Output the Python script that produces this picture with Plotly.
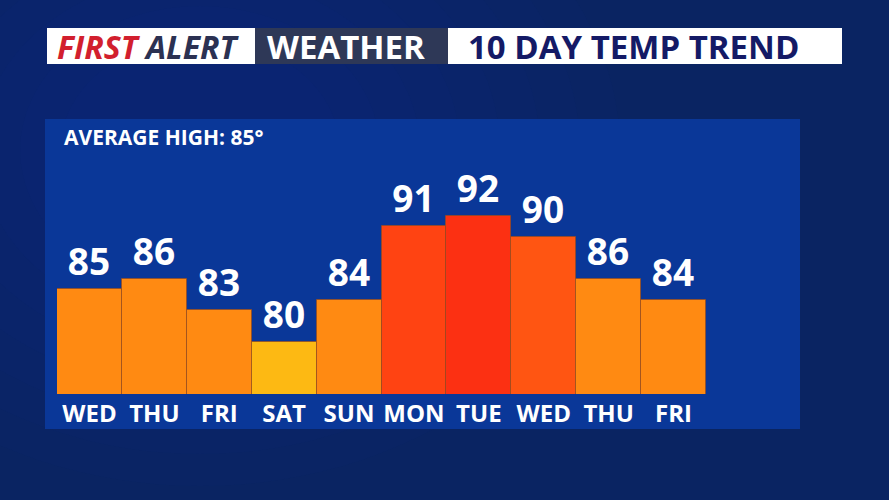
import plotly.graph_objects as go

days = ["WED", "THU", "FRI", "SAT", "SUN", "MON", "TUE", "WED ", "THU ", "FRI "]
day_labels = ["WED", "THU", "FRI", "SAT", "SUN", "MON", "TUE", "WED", "THU", "FRI"]
highs = [85, 86, 83, 80, 84, 91, 92, 90, 86, 84]
bar_colors = ["#FF8A12", "#FF8A12", "#FF8A12", "#FDB913", "#FF8A12",
              "#FF4312", "#FC3012", "#FF5512", "#FF8A12", "#FF8A12"]
title_left = ["FIRST", "ALERT"]
title_mid = "WEATHER"
title_right = "10 DAY TEMP TREND"
average_text = "AVERAGE HIGH: 85°"

W, H = 889, 500
ML, MR, MT, MB = 57, 183, 119, 106
PW = W - ML - MR
PH = H - MT - MB

def px(x):
    return (x - ML) / PW

def py(y):
    return (H - MB - y) / PH

FONT = "Open Sans"

fig = go.Figure()
fig.add_trace(go.Bar(
    x=days, y=highs,
    marker=dict(color=bar_colors, line=dict(color="rgba(150,75,30,0.7)", width=1)),
    text=[str(v) for v in highs],
    textposition="outside",
    textfont=dict(family=FONT, size=37, color="white", weight="bold"),
    cliponaxis=False,
    width=1.0,
))

shapes = []
# soft background glow (many faint layers to avoid hard edges)
for i in range(8):
    r = 420 - i * 40
    shapes.append(dict(type="circle", xref="paper", yref="paper",
                       x0=px(200 - r), x1=px(200 + r), y0=py(150 + r * 0.8), y1=py(150 - r * 0.8),
                       fillcolor="rgba(25,70,160,0.035)", line=dict(width=0), layer="below"))
shapes += [
    # blue panel
    dict(type="rect", xref="paper", yref="paper", x0=px(45), x1=px(800), y0=py(429), y1=py(119),
         fillcolor="#0a3798", line=dict(width=0), layer="below"),
    # header boxes
    dict(type="rect", xref="paper", yref="paper", x0=px(47), x1=px(255), y0=py(64), y1=py(28),
         fillcolor="white", line=dict(width=0), layer="below"),
    dict(type="rect", xref="paper", yref="paper", x0=px(255), x1=px(448), y0=py(64), y1=py(28),
         fillcolor="#2e3857", line=dict(width=0), layer="below"),
    dict(type="rect", xref="paper", yref="paper", x0=px(448), x1=px(842), y0=py(64), y1=py(28),
         fillcolor="white", line=dict(width=0), layer="below"),
]

annotations = [
    dict(xref="paper", yref="paper", x=px(148), y=py(46), xanchor="center", yanchor="middle",
         text=f"<b><i><span style='color:#d21f2e'>{title_left[0]}</span> <span style='color:#2b3152'>{title_left[1]}</span></i></b>",
         showarrow=False, font=dict(family=FONT, size=32)),
    dict(xref="paper", yref="paper", x=px(346), y=py(46), xanchor="center", yanchor="middle",
         text=f"<b>{title_mid}</b>", showarrow=False, font=dict(family=FONT, size=33, color="white")),
    dict(xref="paper", yref="paper", x=px(466), y=py(46), xanchor="left", yanchor="middle",
         text=f"<b>{title_right}</b>", showarrow=False, font=dict(family=FONT, size=33, color="#141a66")),
    dict(xref="paper", yref="paper", x=px(62), y=py(137), xanchor="left", yanchor="middle",
         text=f"<b>{average_text}</b>", showarrow=False, font=dict(family=FONT, size=21, color="white")),
]

fig.update_layout(
    width=W, height=H,
    margin=dict(l=ML, r=MR, t=MT, b=MB, pad=0),
    paper_bgcolor="#0a2462",
    plot_bgcolor="rgba(0,0,0,0)",
    bargap=0,
    showlegend=False,
    shapes=shapes,
    annotations=annotations,
    xaxis=dict(
        range=[-0.5, 9.5], showgrid=False, zeroline=False, showline=False,
        tickmode="array", tickvals=days, ticktext=day_labels,
        tickfont=dict(family=FONT, size=24, color="white", weight="bold"),
        ticks="", ticklabelstandoff=3, fixedrange=True,
    ),
    yaxis=dict(range=[75, 75 + PH / 10.5], visible=False, fixedrange=True),
)

fig.write_html("out.html", config={"displayModeBar": False},
               post_script="document.body.style.margin='0';document.body.style.overflow='hidden';")
